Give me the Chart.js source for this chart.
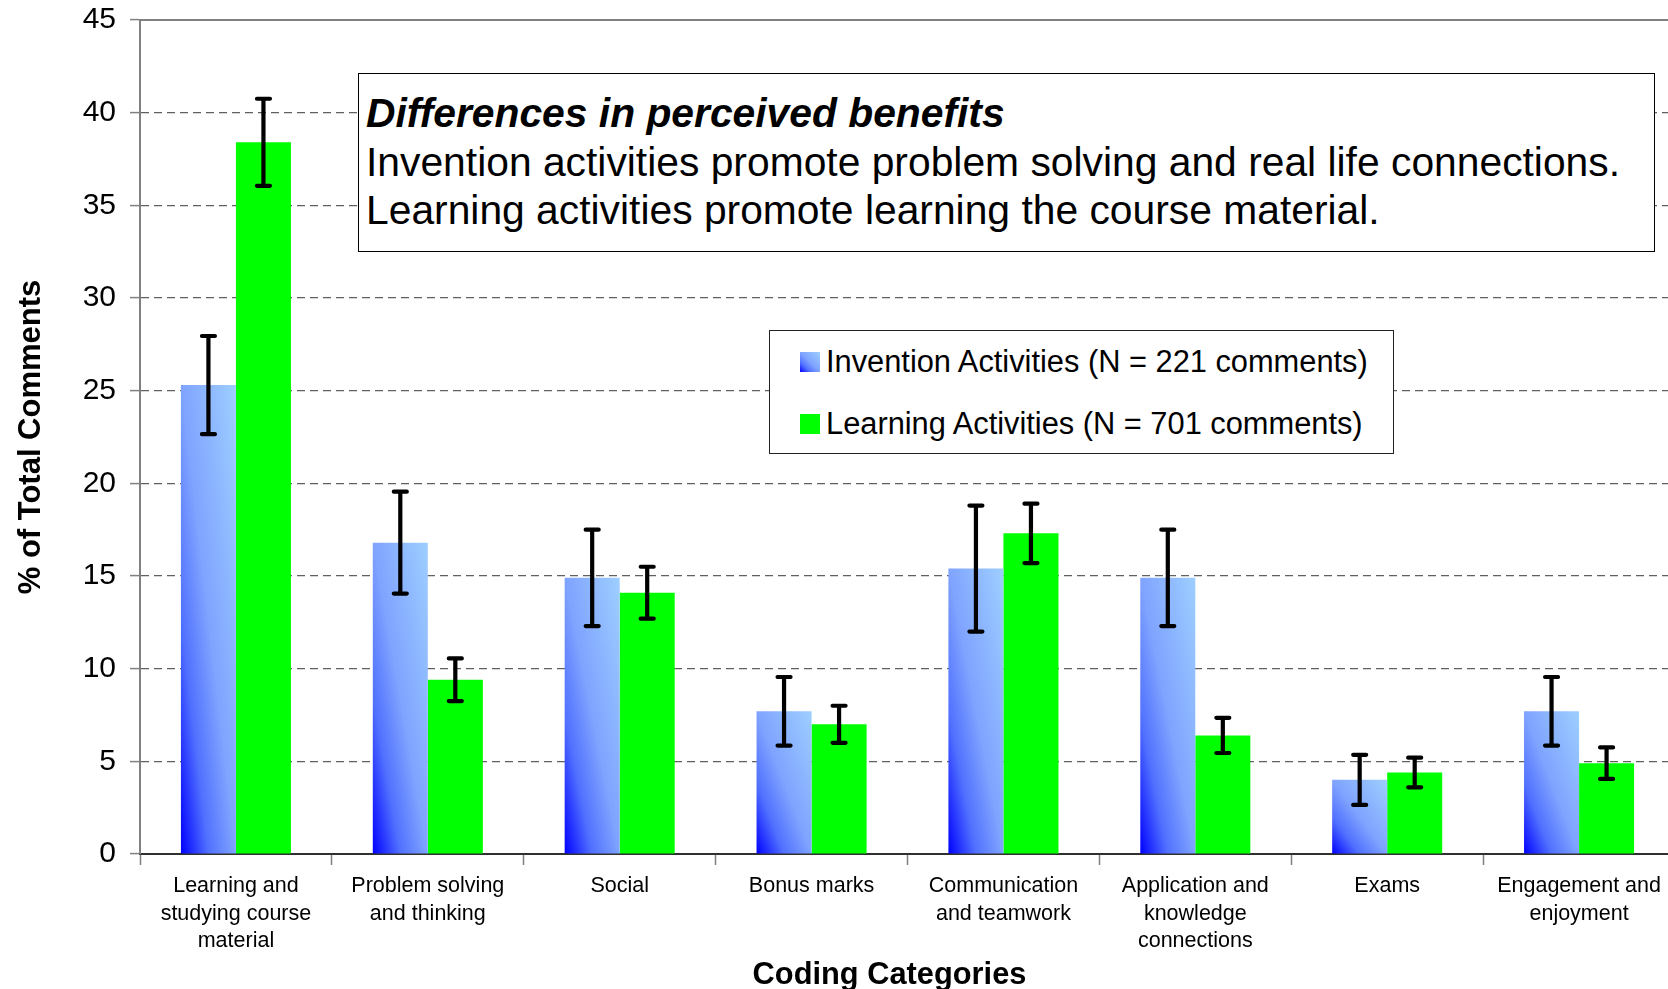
<!DOCTYPE html>
<html>
<head>
<meta charset="utf-8">
<script src="https://cdn.jsdelivr.net/npm/chart.js@4.4.1/dist/chart.umd.min.js"></script>
<style>
  html, body { margin: 0; padding: 0; overflow: hidden; background: #fff; width: 1668px; height: 989px; }
  #wrap { position: relative; width: 1676px; height: 989px; }
  canvas { position: absolute; left: 0; top: 0; }
  .note {
    position: absolute; left: 358px; top: 73px; width: 1297px; height: 179px;
    box-sizing: border-box; border: 1.5px solid #000; background: #fff;
    font-family: 'Liberation Sans', Arial, sans-serif; font-size: 40.8px; line-height: 48.5px;
    padding: 15px 0 0 7px; color: #000; white-space: nowrap;
  }
  .note b { font-style: italic; }
  .legend {
    position: absolute; left: 769px; top: 330px; width: 625px; height: 124px;
    box-sizing: border-box; border: 1.5px solid #222; background: #fff;
    font-family: 'Liberation Sans', Arial, sans-serif; font-size: 30.8px; color: #000;
  }
  .row { position: absolute; left: 30px; height: 36px; line-height: 36px; white-space: nowrap; }
  .sw { display: inline-block; width: 20px; height: 20px; vertical-align: middle; margin-right: 6px; position: relative; top: -2px; }
</style>
</head>
<body>
<div id="wrap">
  <canvas id="c" width="1676" height="989"></canvas>
  <div class="note">
    <div><b>Differences in perceived benefits</b></div>
    <div>Invention activities promote problem solving and real life connections.</div>
    <div>Learning activities promote learning the course material.</div>
  </div>
  <div class="legend">
    <div class="row" style="top:13px"><span class="sw" style="background:linear-gradient(45deg,#0000ff 0%,#5070ff 25%,#7fa3ff 50%,#9ecfff 100%)"></span>Invention Activities (N = 221 comments)</div>
    <div class="row" style="top:75px"><span class="sw" style="background:#00ff00"></span>Learning Activities (N = 701 comments)</div>
  </div>
</div>
<script>
const categories = [
  ["Learning and", "studying course", "material"],
  ["Problem solving", "and thinking"],
  "Social",
  "Bonus marks",
  ["Communication", "and teamwork"],
  ["Application and", "knowledge", "connections"],
  "Exams",
  ["Engagement and", "enjoyment"]
];
const seriesNames = ["Invention Activities (N = 221 comments)", "Learning Activities (N = 701 comments)"];
const inventionValues = [25.3, 16.8, 14.9, 7.7, 15.4, 14.9, 4.0, 7.7];
const inventionErrors = [2.65, 2.75, 2.6, 1.85, 3.4, 2.6, 1.35, 1.85];
const learningValues  = [38.4, 9.4, 14.1, 7.0, 17.3, 6.4, 4.4, 4.9];
const learningErrors  = [2.35, 1.15, 1.4, 1.0, 1.6, 0.95, 0.8, 0.85];
const yMin = 0, yMax = 45, yStep = 5;
const xTitle = 'Coding Categories';
const yTitle = '% of Total Comments';

const FONT = "'Liberation Sans', Arial, sans-serif";
const CAT_PCT = 0.5735;

function blueFill(ctx) {
  const fallback = '#6f8fff';
  if (ctx.type !== 'data') return fallback;
  const chart = ctx.chart;
  const xs = chart.scales.x, ys = chart.scales.y;
  if (!chart.chartArea || !xs || !ys) return fallback;
  const i = ctx.dataIndex;
  const catW = xs.width / categories.length;
  const groupW = catW * CAT_PCT;
  const cx = xs.getPixelForValue(i);
  const left = cx - groupW / 2, w = groupW / 2;
  const top = ys.getPixelForValue(inventionValues[i]);
  const bottom = ys.getPixelForValue(0);
  const h = Math.max(bottom - top, 1);
  const gx = 1 / (2 * w), gy = -1 / (2 * h);
  const g2 = gx * gx + gy * gy;
  const grad = chart.ctx.createLinearGradient(left, bottom, left + gx / g2, bottom + gy / g2);
  grad.addColorStop(0, '#0000ff');
  grad.addColorStop(0.25, '#5070ff');
  grad.addColorStop(0.5, '#7fa3ff');
  grad.addColorStop(1, '#9ecfff');
  return grad;
}

const errorBars = {
  id: 'errorBars',
  afterDatasetsDraw(chart) {
    const ys = chart.scales.y;
    const ctx = chart.ctx;
    const allVals = [inventionValues, learningValues];
    const allErrs = [inventionErrors, learningErrors];
    ctx.save();
    ctx.strokeStyle = '#000';
    ctx.lineWidth = 4.2;
    ctx.lineCap = 'round';
    for (let d = 0; d < 2; d++) {
      const meta = chart.getDatasetMeta(d);
      meta.data.forEach((bar, j) => {
        const x = bar.x;
        const yt = ys.getPixelForValue(allVals[d][j] + allErrs[d][j]);
        const yb = ys.getPixelForValue(allVals[d][j] - allErrs[d][j]);
        ctx.beginPath();
        ctx.moveTo(x, yt); ctx.lineTo(x, yb);
        ctx.moveTo(x - 6.5, yt); ctx.lineTo(x + 6.5, yt);
        ctx.moveTo(x - 6.5, yb); ctx.lineTo(x + 6.5, yb);
        ctx.stroke();
      });
    }
    ctx.restore();
  }
};

const frameAndTitle = {
  id: 'frameAndTitle',
  beforeDatasetsDraw(chart) {
    const a = chart.chartArea, ctx = chart.ctx;
    ctx.save();
    ctx.strokeStyle = '#808080';
    ctx.lineWidth = 2;
    ctx.beginPath();
    ctx.moveTo(a.left - 1, a.top); ctx.lineTo(a.right, a.top);
    ctx.stroke();
    ctx.restore();
  },
  afterDraw(chart) {
    const a = chart.chartArea, ctx = chart.ctx;
    ctx.save();
    ctx.fillStyle = '#000';
    ctx.font = "bold 30.8px " + FONT;
    ctx.textAlign = 'center';
    ctx.textBaseline = 'middle';
    ctx.fillText(xTitle, (a.left + a.right) / 2 - 18, chart.height - 13);
    ctx.restore();
  }
};

new Chart(document.getElementById('c'), {
  type: 'bar',
  data: {
    labels: categories,
    datasets: [
      { label: seriesNames[0], data: inventionValues, backgroundColor: blueFill, borderWidth: 0 },
      { label: seriesNames[1], data: learningValues, backgroundColor: '#00ff00', borderWidth: 0 }
    ]
  },
  options: {
    responsive: false,
    animation: false,
    datasets: { bar: { barPercentage: 1.0, categoryPercentage: CAT_PCT } },
    layout: { padding: { top: 20, right: 1, left: 0, bottom: 0 } },
    plugins: { legend: { display: false }, tooltip: { enabled: false } },
    scales: {
      x: {
        offset: true,
        afterFit(s) { s.height = 135; s.paddingLeft = 0; s.paddingRight = 0; },
        grid: { drawOnChartArea: false, drawTicks: true, tickLength: 11, tickColor: '#808080', tickWidth: 1.5, offset: true },
        border: { display: true, color: '#303030', width: 2 },
        ticks: { color: '#000', font: { family: FONT, size: 21.5, lineHeight: 1.29 }, padding: 7, maxRotation: 0, minRotation: 0, autoSkip: false },
        title: { display: false }
      },
      y: {
        min: yMin, max: yMax,
        afterFit(s) { s.width = 140; s.paddingTop = 0; s.paddingBottom = 0; },
        grid: {
          color: (c) => (c.tick && (c.tick.value === yMax || c.tick.value === yMin)) ? 'rgba(0,0,0,0)' : '#606060',
          lineWidth: 1.2, tickLength: 10, tickColor: '#808080', tickWidth: 1.5
        },
        border: { display: true, color: '#808080', width: 2, dash: [8, 5] },
        ticks: { stepSize: yStep, color: '#000', font: { family: FONT, size: 30 }, padding: 14 },
        title: { display: true, text: yTitle, color: '#000', font: { family: FONT, size: 31, weight: 'bold' }, padding: { top: 13, bottom: 0 } }
      }
    }
  },
  plugins: [errorBars, frameAndTitle]
});
</script>
</body>
</html>
